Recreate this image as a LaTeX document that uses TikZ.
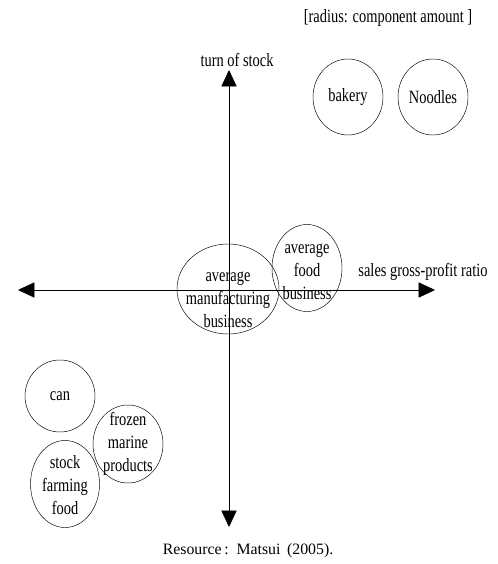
\documentclass[tikz,border=0pt]{standalone}
\usepackage{fontspec}
\setmainfont[FakeStretch=0.77]{Liberation Serif}
\newfontfamily\srcfont{Liberation Serif}
\usetikzlibrary{shapes.geometric,arrows.meta}
\begin{document}
\begin{tikzpicture}[x=0.03cm,y=-0.03cm,
    blob/.style={draw,ellipse,inner sep=0pt},
    lbl/.style={align=center,inner sep=0pt,font=\fontsize{16}{19.5}\selectfont},
    axis/.style={{Triangle[length=14pt,width=13pt]}-{Triangle[length=14pt,width=13pt]}}]
  \useasboundingbox (0,0) rectangle (497,564);
  % axes
  \coordinate (top) at (229,70);
  \coordinate (bot) at (229,527);
  \coordinate (lt) at (18,290);
  \coordinate (rt) at (435,290);
  \draw[axis] (top) -- (bot);
  \draw[axis] (lt) -- (rt);
  \node[lbl] (ylab) at (237,60) {turn of stock};
  \node[lbl] (xlab) at (423,272) {sales gross-profit ratio};
  \node[lbl] (note) at (388,18) {[radius: component amount ]};
  % circles
  \node[blob,minimum width=2.1cm,minimum height=2.28cm] (bakery) at (348,97) {};
  \node[lbl] (bakeryt) at (bakery) {bakery};
  \node[blob,minimum width=2.1cm,minimum height=2.28cm] (noodles) at (433,97) {};
  \node[lbl] (noodlest) at (noodles) {Noodles};
  \node[blob,minimum width=2.1cm,minimum height=2.61cm] (food) at (307,268) {};
  \node[lbl] (foodt) at (307,272) {average\\food\\business};
  \node[blob,minimum width=3.06cm,minimum height=2.7cm] (mfg) at (228,289) {};
  \node[lbl] (mfgt) at (228,300) {average\\manufacturing\\business};
  \node[blob,minimum width=2.1cm,minimum height=2.16cm] (can) at (60,396) {};
  \node[lbl] (cant) at (can) {can};
  \node[blob,minimum width=2.1cm,minimum height=2.34cm] (frozen) at (128,444) {};
  \node[lbl] (frozent) at (128,444) {frozen\\marine\\products};
  \node[blob,minimum width=2.07cm,minimum height=2.61cm] (stock) at (65,484) {};
  \node[lbl] (stockt) at (65,485) {stock\\farming\\food};
  \node[font=\srcfont\fontsize{13.5}{16}\selectfont] (src) at (248,551) {Resource\,:\, Matsui\, (2005).};
\end{tikzpicture}
\end{document}
